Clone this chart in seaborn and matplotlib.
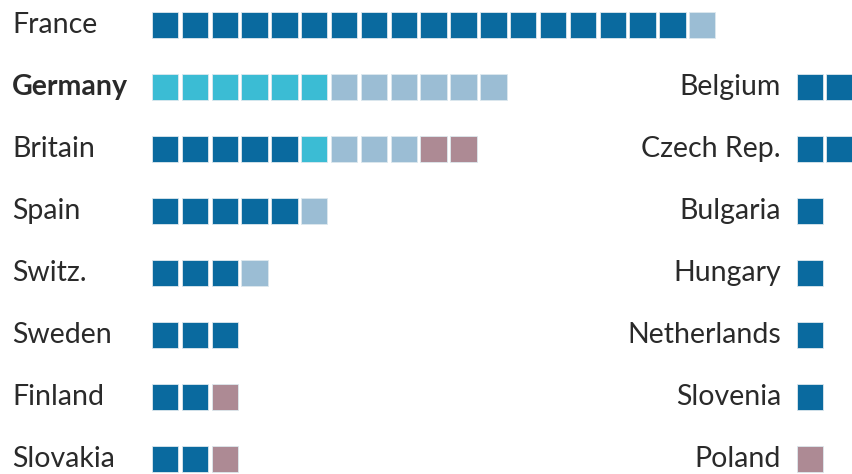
import pandas as pd
import matplotlib
matplotlib.use('Agg')
import matplotlib.pyplot as plt
import seaborn as sns

# counts of squares per country, by colour group
left_countries = ['France', 'Germany', 'Britain', 'Spain', 'Switz.', 'Sweden', 'Finland', 'Slovakia']
left_dark = [18, 0, 5, 5, 3, 3, 2, 2]
left_cyan = [0, 6, 1, 0, 0, 0, 0, 0]
left_light = [1, 6, 3, 1, 1, 0, 0, 0]
left_mauve = [0, 0, 2, 0, 0, 0, 1, 1]

right_countries = ['Belgium', 'Czech Rep.', 'Bulgaria', 'Hungary', 'Netherlands', 'Slovenia', 'Poland']
right_dark = [2, 2, 1, 1, 1, 1, 0]
right_mauve = [0, 0, 0, 0, 0, 0, 1]

palette = {'dark': '#0a6a9f', 'cyan': '#3bbcd4', 'light': '#9bbdd4', 'mauve': '#ad8a94'}

# one row per square
rows = []
for r, name in enumerate(left_countries):
    i = 0
    for cat, counts in [('dark', left_dark), ('cyan', left_cyan), ('light', left_light), ('mauve', left_mauve)]:
        for _ in range(counts[r]):
            rows.append({'country': name, 'row': r, 'pos': i, 'cat': cat})
            i += 1
right_start = 21.6  # right column offset, in squares
for r, name in enumerate(right_countries):
    i = 0
    for cat, counts in [('dark', right_dark), ('mauve', right_mauve)]:
        for _ in range(counts[r]):
            rows.append({'country': name, 'row': r + 1, 'pos': right_start + i * 0.98, 'cat': cat})
            i += 1
df = pd.DataFrame(rows)

sns.set_style('white')
plt.rcParams['font.family'] = ['Lato', 'DejaVu Sans']

fig = plt.figure(figsize=(8.53, 4.74), dpi=100)
ax = fig.add_axes([0, 0, 1, 1])
sns.scatterplot(data=df, x='pos', y='row', hue='cat', palette=palette, marker='s',
                s=360, linewidth=0.6, edgecolor='#dde8ee', legend=False, ax=ax)

pitch = 29.85
ax.set_xlim(-165 / pitch, (853 - 165) / pitch)
ax.set_ylim((474 - 25) / 62, -25 / 62)
ax.axis('off')

tr = ax.get_yaxis_transform()
for r, name in enumerate(left_countries):
    ax.text(12 / 853, r, name, transform=tr, ha='left', va='center', fontsize=20.5,
            color='#2a2a2a', fontweight='bold' if name == 'Germany' else 'normal')
for r, name in enumerate(right_countries):
    ax.text(781 / 853, r + 1, name, transform=tr, ha='right', va='center', fontsize=20.5,
            color='#2a2a2a')

plt.savefig('out.png', dpi=100)
